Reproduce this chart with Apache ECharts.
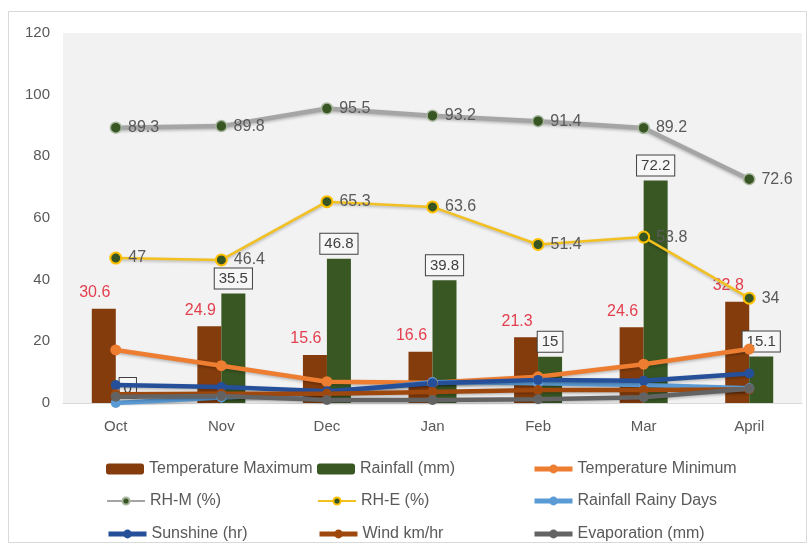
<!DOCTYPE html>
<html>
<head>
<meta charset="utf-8">
<script src="https://cdn.jsdelivr.net/npm/echarts@6/dist/echarts.min.js"></script>
<style>
  html, body { margin: 0; padding: 0; background: #ffffff; }
  #chart { width: 810px; height: 545px; }
</style>
</head>
<body>
<div id="chart"></div>
<script>
// Monthly weather record, October to April
const months      = ['Oct', 'Nov', 'Dec', 'Jan', 'Feb', 'Mar', 'April'];
const tempMax     = [30.6, 24.9, 15.6, 16.6, 21.3, 24.6, 32.8];
const rainfall    = [0, 35.5, 46.8, 39.8, 15, 72.2, 15.1];
const tempMin     = [17.2, 12.1, 6.9, 6.6, 8.5, 12.6, 17.5];
const rhM         = [89.3, 89.8, 95.5, 93.2, 91.4, 89.2, 72.6];
const rhE         = [47, 46.4, 65.3, 63.6, 51.4, 53.8, 34];
const rainyDays   = [0, 1.8, 3.2, 6.8, 6.4, 5.8, 4.8];
const sunshine    = [5.8, 5.2, 3.8, 6.4, 7.5, 7.2, 9.6];
const wind        = [2.8, 3.0, 3.0, 3.6, 4.2, 4.2, 4.4];
const evaporation = [2.0, 2.3, 1.0, 1.0, 1.2, 1.9, 4.6];

// legend grid: three columns by three rows
const legendColumns = [
  ['Temperature Maximum', 'RH-M (%)', 'Sunshine (hr)'],
  ['Rainfall (mm)', 'RH-E (%)', 'Wind km/hr'],
  ['Temperature Minimum', 'Rainfall Rainy Days', 'Evaporation (mm)']
];
const thinLegendLines = ['RH-M (%)', 'RH-E (%)'];

const FONT = 'Liberation Sans';
const TEXT_GRAY = '#595959';

const chart = echarts.init(document.getElementById('chart'), null, { renderer: 'canvas' });

const lineShadow = { shadowBlur: 3, shadowColor: 'rgba(0,0,0,0.25)', shadowOffsetY: 1.5 };

function lineSeries(name, data, color, width, extra) {
  return Object.assign({
    name: name,
    type: 'line',
    data: data,
    symbol: 'circle',
    symbolSize: 10,
    lineStyle: Object.assign({ color: color, width: width }, lineShadow),
    itemStyle: { color: color },
    emphasis: { disabled: true }
  }, extra || {});
}

const valueLabel = {
  show: true,
  position: 'right',
  distance: 6,
  color: TEXT_GRAY,
  fontFamily: FONT,
  fontSize: 16
};

// one legend component per entry so the columns line up
const colLeft = [101, 312, 527];
const rowTop = [456, 488, 521];
const legends = [];
legendColumns.forEach(function (names, c) {
  names.forEach(function (name, r) {
    const thin = thinLegendLines.indexOf(name) >= 0;
    legends.push({
      left: colLeft[c],
      top: rowTop[r],
      data: [name],
      itemWidth: 38,
      itemHeight: thin ? 9 : 11,
      lineStyle: { width: thin ? 2 : 5, shadowBlur: 0, shadowOffsetY: 0 },
      textStyle: { color: TEXT_GRAY, fontFamily: FONT, fontSize: 16 },
      selectedMode: false
    });
  });
});

chart.setOption({
  animation: false,
  backgroundColor: '#ffffff',
  graphic: [{
    type: 'rect',
    shape: { x: 8.5, y: 11.5, width: 798, height: 531 },
    style: { fill: 'none', stroke: '#d9d9d9', lineWidth: 1 },
    silent: true,
    z: -10
  }],
  grid: {
    left: 63, right: 8, top: 33, bottom: 142,
    show: true, backgroundColor: '#f2f2f2', borderWidth: 0
  },
  legend: legends,
  xAxis: {
    type: 'category',
    data: months,
    boundaryGap: true,
    axisLine: { show: true, lineStyle: { color: '#d9d9d9' } },
    axisTick: { show: false },
    axisLabel: { color: TEXT_GRAY, fontFamily: FONT, fontSize: 15, margin: 16 }
  },
  yAxis: {
    type: 'value',
    min: 0, max: 120, interval: 20,
    axisLine: { show: false },
    axisTick: { show: false },
    splitLine: { show: false },
    axisLabel: { color: TEXT_GRAY, fontFamily: FONT, fontSize: 15, margin: 13 }
  },
  series: [
    {
      name: 'Temperature Maximum',
      type: 'bar',
      data: tempMax,
      barWidth: 24,
      barGap: '0%',
      itemStyle: { color: '#843C0C' },
      label: {
        show: true, position: 'top', distance: 8, offset: [-9, 0],
        color: '#e2404f', fontFamily: FONT, fontSize: 16
      },
      emphasis: { disabled: true }
    },
    {
      name: 'Rainfall (mm)',
      type: 'bar',
      data: rainfall,
      barWidth: 24,
      barGap: '0%',
      itemStyle: { color: '#385723' },
      label: {
        show: true, position: 'top', distance: 5,
        color: '#404040', fontFamily: FONT, fontSize: 15,
        backgroundColor: '#f7f7f7', borderColor: '#404040', borderWidth: 1,
        padding: [3, 4, 2, 4]
      },
      emphasis: { disabled: true }
    },
    lineSeries('Temperature Minimum', tempMin, '#ED7D31', 4.5, { symbolSize: 11 }),
    lineSeries('RH-M (%)', rhM, '#A5A5A5', 4.5, {
      symbolSize: 11,
      itemStyle: { color: '#375623', borderColor: '#a9b7a0', borderWidth: 1.5 },
      label: valueLabel
    }),
    lineSeries('RH-E (%)', rhE, '#f2c021', 2.5, {
      symbolSize: 11,
      itemStyle: { color: '#375623', borderColor: '#FFC000', borderWidth: 2 },
      label: valueLabel
    }),
    lineSeries('Rainfall Rainy Days', rainyDays, '#5B9BD5', 4.5),
    lineSeries('Sunshine (hr)', sunshine, '#264f9a', 4.5),
    lineSeries('Wind km/hr', wind, '#9E480E', 4.5),
    lineSeries('Evaporation (mm)', evaporation, '#636363', 4.5)
  ]
});
</script>
</body>
</html>
